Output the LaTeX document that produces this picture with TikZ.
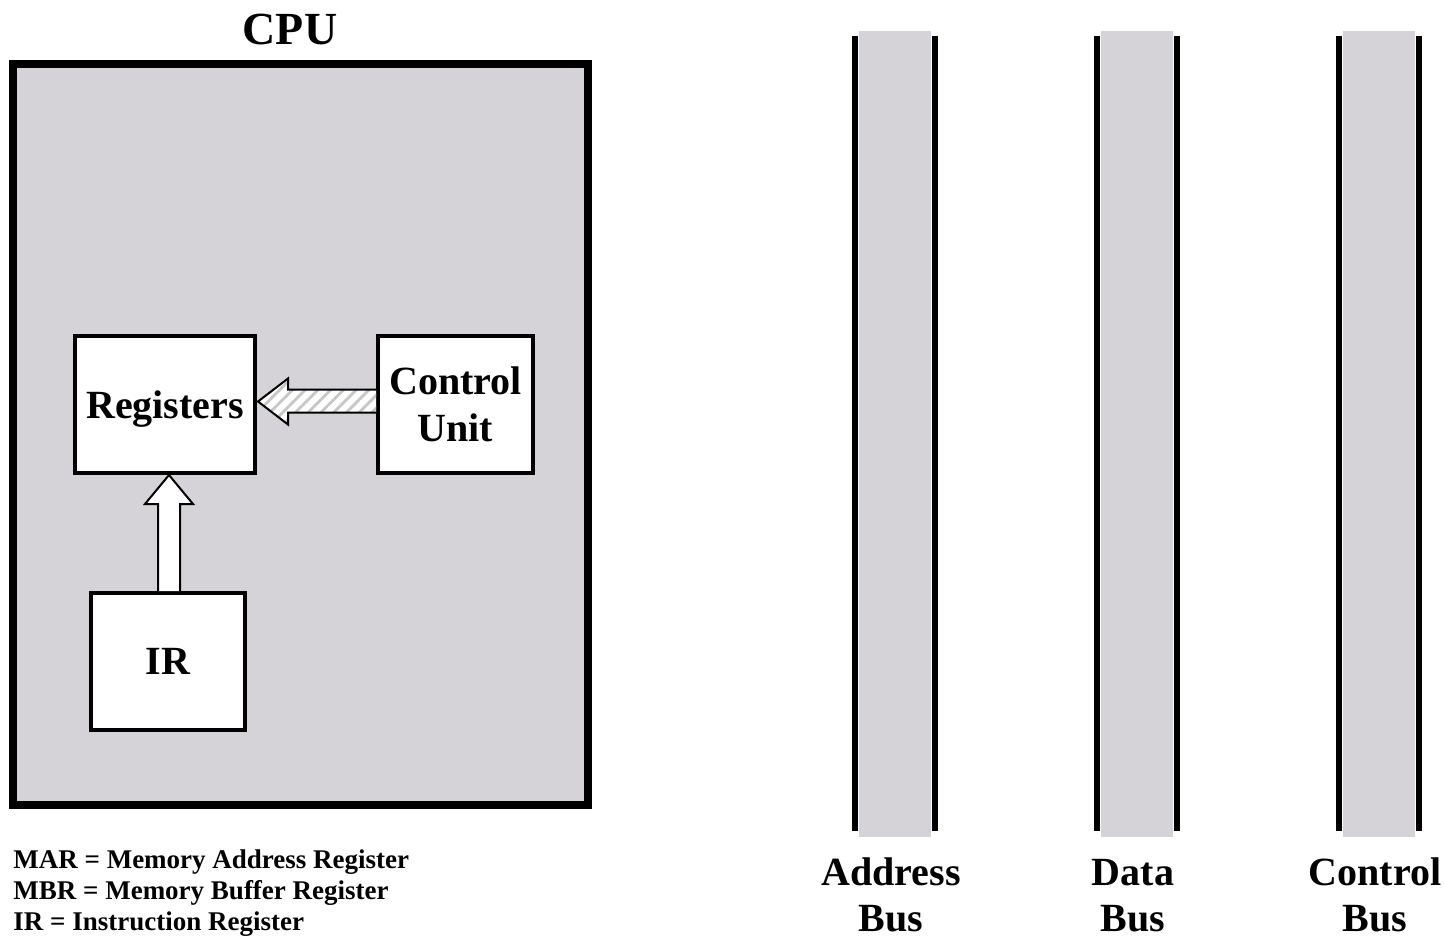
\documentclass[tikz,border=0pt]{standalone}
\usepackage{fontspec}
\setmainfont{Liberation Serif}
\usetikzlibrary{calc,patterns.meta}
\definecolor{cpugray}{RGB}{213,211,215}
\definecolor{busgray}{RGB}{213,211,215}
\begin{document}
\begin{tikzpicture}[x=0.5pt,y=-0.5pt,
  box/.style={draw, line width=2pt, fill=white, inner sep=0pt,
    font=\fontsize{20}{23.5}\selectfont\bfseries, align=center},
  blockarrow/.style={draw, line width=1pt, line join=miter},
  busline/.style={line width=3pt},
  lbl/.style={font=\fontsize{20}{23.5}\selectfont\bfseries, anchor=base},
  legend/.style={font=\fontsize{13.5}{15.5}\selectfont\bfseries, anchor=base west, inner sep=0pt}]
\useasboundingbox (0,0) rectangle (1444,937);

% CPU
\node[draw, line width=4pt, fill=cpugray, minimum width=287.5pt, minimum height=370.5pt, inner sep=0pt] (cpu) at (300.5,434.5) {};
\node[font=\fontsize{23}{27}\selectfont\bfseries, anchor=base] (cputitle) at (290,44) {CPU};

\node[box, minimum width=90pt, minimum height=68.5pt, text depth=0pt] (reg) at (165,404.5) {Registers};
\node[box, minimum width=77.5pt, minimum height=68.5pt] (cu) at (455.5,404.5) {Control\\Unit};
\node[box, minimum width=77pt, minimum height=68.5pt] (ir) at (168,661.5) {IR};

% hatched block arrow: Control Unit -> Registers
\coordinate (ht) at ($(reg.east)+(1,-3)$);
\coordinate (hu) at ($(ht)+(30,-23)$);
\coordinate (hd) at ($(ht)+(30,23)$);
\coordinate (su) at ($(ht)+(30,-12)$);
\coordinate (sd) at ($(ht)+(30,11)$);
\path[fill=white] (ht) -- (hu) -- (su) -- (cu.west |- su) -- (cu.west |- sd) -- (sd) -- (hd) -- cycle;
\path[pattern={Lines[angle=45, distance=4.5pt, line width=1.4pt]}, pattern color=black!22]
  (ht) -- (hu) -- (su) -- (cu.west |- su) -- (cu.west |- sd) -- (sd) -- (hd) -- cycle;
\draw[blockarrow] (cu.west |- sd) -- (sd) -- (hd) -- (ht) -- (hu) -- (su) -- (cu.west |- su);

% block arrow: IR -> Registers
\coordinate (vt) at ($(ir.north |- reg.south)+(1,0)$);
\coordinate (vl) at ($(vt)+(-24,29)$);
\coordinate (vr) at ($(vt)+(24,29)$);
\coordinate (sl) at ($(vt)+(-11,29)$);
\coordinate (sr) at ($(vt)+(11,29)$);
\draw[blockarrow, fill=white] (sl |- ir.north) -- (sl) -- (vl) -- (vt) -- (vr) -- (sr) -- (sr |- ir.north);

% buses
\foreach \n/\x in {ab/895, db/1137, cb/1379}{
  \node[fill=busgray, minimum width=36pt, minimum height=403pt, inner sep=0pt] (\n) at (\x,434) {};
  \draw[busline] ($(\n.north west)+(-3.5,5)$) -- ($(\n.south west)+(-3.5,-6)$);
  \draw[busline] ($(\n.north east)+(3.5,5)$) -- ($(\n.south east)+(3.5,-6)$);
}
\node[lbl] (abl1) at (891,885) {Address};
\node[lbl] (abl2) at (891,931) {Bus};
\node[lbl] (dbl1) at (1133,885) {Data};
\node[lbl] (dbl2) at (1133,931) {Bus};
\node[lbl] (cbl1) at (1375,885) {Control};
\node[lbl] (cbl2) at (1375,931) {Bus};

% legend
\node[legend] (l1) at (13,868) {MAR = Memory Address Register};
\node[legend] (l2) at (13,899) {MBR = Memory Buffer Register};
\node[legend] (l3) at (13,930) {IR = Instruction Register};
\end{tikzpicture}
\end{document}
